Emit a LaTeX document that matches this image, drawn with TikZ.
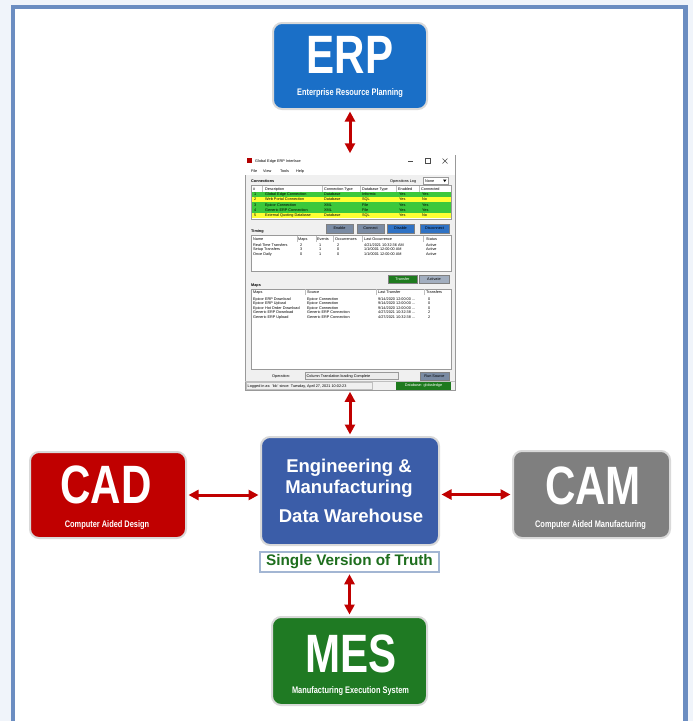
\documentclass[tikz,border=0pt]{standalone}
\usepackage{fontspec}
\setmainfont{Liberation Sans}
\newfontfamily\narrowfont[FakeStretch=0.78]{Liberation Sans}
\usetikzlibrary{arrows.meta}

\definecolor{erpBlue}{HTML}{1A6FC7}
\definecolor{dwhBlue}{HTML}{3B5DA8}
\definecolor{cadRed}{HTML}{C00000}
\definecolor{camGray}{HTML}{7F7F7F}
\definecolor{mesGreen}{HTML}{1F7A23}
\definecolor{linkRed}{HTML}{C00000}
\definecolor{frameBlue}{HTML}{6B8DC1}
\definecolor{pageTint}{HTML}{F0F4FA}
\definecolor{truthGreen}{HTML}{1E6E1E}
\definecolor{truthEdge}{HTML}{A3B6D3}
\definecolor{winGray}{HTML}{F0F0F0}
\definecolor{rowGreen}{HTML}{3CC83C}
\definecolor{rowYellow}{HTML}{FFFF33}
\definecolor{btnSlate}{HTML}{7A8BA3}
\definecolor{btnBlue}{HTML}{2F72C4}
\definecolor{btnGreen}{HTML}{1E7A1E}

\begin{document}
\begin{tikzpicture}[
    x=1pt, y=-1pt,
    sysBox/.style={rectangle, rounded corners=9pt, draw=black!15, line width=2pt, minimum width=154pt, minimum height=86pt},
    abbrText/.style={anchor=base, text=white, font=\narrowfont\bfseries\fontsize{54}{54}\selectfont},
    fullText/.style={anchor=base, text=white, font=\narrowfont\bfseries\fontsize{9.5}{11}\selectfont},
    dwhText/.style={anchor=base, text=white, font=\bfseries\fontsize{18.5}{20}\selectfont},
    link/.style={<->, >={Triangle[length=10pt, width=10pt]}, line width=3pt, draw=linkRed, shorten >=1.5pt, shorten <=1.5pt},
    guiText/.style={anchor=base west, inner sep=0pt, font=\fontsize{3.8}{4.5}\selectfont},
    guiHead/.style={guiText, font=\bfseries\fontsize{3.8}{4.5}\selectfont},
    guiButton/.style={rectangle, draw=black!50, line width=0.3pt, minimum width=27pt, minimum height=8.5pt, inner sep=0pt, font=\fontsize{3.8}{4.5}\selectfont},
    guiTable/.style={draw=black!40, fill=white, line width=0.3pt},
    guiRule/.style={draw=black!25, line width=0.3pt}
]
    \useasboundingbox (0,0) rectangle (693,721);

    % --- PAGE FRAME ---
    \fill[pageTint] (0,0) rectangle (693,721);
    \draw[frameBlue, line width=4.5pt, fill=white] (13,7) rectangle (685.5,740);

    % --- SYSTEM BOXES ---
    \node[sysBox, fill=erpBlue] (erp) at (350,66) {};
    \node[abbrText] (erpAbbr) at (350,73) {ERP};
    \node[fullText] (erpFull) at (350,95) {Enterprise Resource Planning};

    \node[sysBox, fill=cadRed, minimum width=156pt] (cad) at (108,495) {};
    \node[abbrText] (cadAbbr) at (106,503) {CAD};
    \node[fullText] (cadFull) at (107,527) {Computer Aided Design};

    \node[sysBox, fill=camGray, minimum width=157pt, minimum height=87pt] (cam) at (591.5,494.5) {};
    \node[abbrText] (camAbbr) at (593,504) {CAM};
    \node[fullText] (camFull) at (590.5,527) {Computer Aided Manufacturing};

    \node[sysBox, fill=mesGreen, minimum width=155pt, minimum height=88pt] (mes) at (349.5,661) {};
    \node[abbrText] (mesAbbr) at (351,672) {MES};
    \node[fullText] (mesFull) at (350.5,693) {Manufacturing Execution System};

    % Data warehouse in the middle
    \node[sysBox, fill=dwhBlue, minimum width=178pt, minimum height=108pt] (dwh) at (350,491) {};
    \node[dwhText] (dwhLine1) at (349,472) {Engineering \&};
    \node[dwhText] (dwhLine2) at (349,493) {Manufacturing};
    \node[dwhText] (dwhLine3) at (351,522) {Data Warehouse};

    \node[rectangle, draw=truthEdge, line width=1.5pt, fill=white, minimum width=179pt, minimum height=20pt, inner sep=0pt,
          text=truthGreen, font=\bfseries\fontsize{15.3}{17}\selectfont] (truth) at (349.5,562) {Single Version of Truth};

    % --- INTERFACE WINDOW ---
    \node[rectangle, draw=black!40, fill=winGray, line width=0.5pt, minimum width=210pt, minimum height=235pt, inner sep=0pt] (gui) at (350,272.5) {};

    % title and menu bar
    \fill[white] (245.3,155.3) rectangle (454.7,175);
    \fill[red!70!black] (247,158) rectangle (252,163);
    \node[guiText] (guiTitle) at (255,162.5) {Global Edge ERP Interface};
    \draw[black!70, line width=0.4pt] (408,161) -- (413,161);
    \draw[black!70, line width=0.4pt] (425,158.5) rectangle (430,163.5);
    \draw[black!70, line width=0.4pt] (442.5,158.5) -- (447.5,163.5) (442.5,163.5) -- (447.5,158.5);
    \foreach \item/\x in {File/251, View/263, Tools/280, Help/296}
        \node[guiText] at (\x,172.5) {\item};

    % connections table
    \node[guiHead] (guiConn) at (251,182) {Connections};
    \node[guiText] (guiLog) at (390,182) {Operations Log};
    \draw[guiTable] (423,177) rectangle (448,184.5);
    \node[guiText] at (425,182.5) {None};
    \fill[black] (443,179.5) -- (446.5,179.5) -- (444.75,182) -- cycle;

    \draw[guiTable] (251,185.5) rectangle (451,219.5);
    \foreach \x in {262, 322, 360, 396, 419}
        \draw[guiRule] (\x,185.5) -- (\x,191.5);
    \foreach \head/\x in {\#/253, Description/265, Connection Type/324, Database Type/362, Enabled/398, Connected/421}
        \node[guiText] at (\x,190) {\head};
    \foreach \i/\desc/\ctype/\dbtype/\en/\con/\shade in {
        1/Global Edge Connection/Database/Informix/Yes/Yes/rowGreen,
        2/Web Portal Connection/Database/SQL/Yes/No/rowYellow,
        3/Epicor Connection/XML/File/Yes/Yes/rowGreen,
        4/Generic ERP Connection/XML/File/Yes/Yes/rowGreen,
        5/External Quoting Database/Database/SQL/Yes/No/rowYellow}
    {
        \pgfmathsetmacro\rowTop{191.5+5.3*(\i-1)}
        \fill[\shade] (251.5,\rowTop) rectangle (450.5,\rowTop+5.3);
        \node[guiText] at (254,\rowTop+4) {\i};
        \node[guiText] at (265,\rowTop+4) {\desc};
        \node[guiText] at (324,\rowTop+4) {\ctype};
        \node[guiText] at (362,\rowTop+4) {\dbtype};
        \node[guiText] at (399,\rowTop+4) {\en};
        \node[guiText] at (422,\rowTop+4) {\con};
    }

    % timing table
    \node[guiHead] (guiTiming) at (251,232) {Timing};
    \node[guiButton, fill=btnSlate] (btnEnable) at (339.5,228.5) {Enable};
    \node[guiButton, fill=btnSlate] (btnConnect) at (370.5,228.5) {Connect};
    \node[guiButton, fill=btnBlue] (btnDisable) at (400.5,228.5) {Disable};
    \node[guiButton, fill=btnBlue, minimum width=29pt] (btnDisconnect) at (434.5,228.5) {Disconnect};

    \draw[guiTable] (251,235.5) rectangle (451,271);
    \foreach \x in {297, 316, 333, 362, 423}
        \draw[guiRule] (\x,235.5) -- (\x,241.5);
    \foreach \head/\x in {Name/253, Maps/298, Events/317, Occurrences/335, Last Occurrence/364, Status/426}
        \node[guiText] at (\x,240) {\head};
    \foreach \i/\name/\maps/\events/\occ/\last in {
        1/Real-Time Transfers/2/1/2/{4/21/2021 10:32:36 AM},
        2/Setup Transfers/3/1/0/{1/1/0001 12:00:00 AM},
        3/Once Daily/0/1/0/{1/1/0001 12:00:00 AM}}
    {
        \pgfmathsetmacro\rowBase{246+4.6*(\i-1)}
        \node[guiText] at (253,\rowBase) {\name};
        \node[guiText] at (300,\rowBase) {\maps};
        \node[guiText] at (319,\rowBase) {\events};
        \node[guiText] at (337,\rowBase) {\occ};
        \node[guiText] at (364,\rowBase) {\last};
        \node[guiText] at (426,\rowBase) {Active};
    }

    \node[guiButton, fill=btnGreen, text=white, minimum width=29pt] (btnTransfer) at (402.5,279) {Transfer};
    \node[guiButton, fill=btnSlate!70, minimum width=30pt] (btnActivate) at (434,279) {Activate};

    % maps table
    \node[guiHead] (guiMaps) at (251,286) {Maps};
    \draw[guiTable] (251,289) rectangle (451,369);
    \foreach \x in {305, 376, 424}
        \draw[guiRule] (\x,289) -- (\x,295);
    \foreach \head/\x in {Maps/253, Source/307, Last Transfer/378, Transfers/426}
        \node[guiText] at (\x,293.5) {\head};
    \foreach \i/\map/\src/\stamp/\count in {
        1/Epicor ERP Download/Epicor Connection/{9/14/2020 12:00:00 ...}/0,
        2/Epicor ERP Upload/Epicor Connection/{9/14/2020 12:00:00 ...}/0,
        3/Epicor Hot Order Download/Epicor Connection/{9/14/2020 12:00:00 ...}/0,
        4/Generic ERP Download/Generic ERP Connection/{4/27/2021 10:32:38 ...}/2,
        5/Generic ERP Upload/Generic ERP Connection/{4/27/2021 10:32:38 ...}/2}
    {
        \pgfmathsetmacro\rowBase{300+4.6*(\i-1)}
        \node[guiText] at (253,\rowBase) {\map};
        \node[guiText] at (307,\rowBase) {\src};
        \node[guiText] at (378,\rowBase) {\stamp};
        \node[guiText] at (428,\rowBase) {\count};
    }

    % operation line and status bar
    \node[guiText] (guiOp) at (272,377.5) {Operation:};
    \draw[guiTable, fill=black!8] (305,372.5) rectangle (398,379.5);
    \node[guiText] at (306.5,377.5) {Column Translation loading Complete};
    \node[guiButton, fill=btnSlate, minimum width=29pt] (btnRun) at (434.5,376) {Run Source};

    \draw[guiRule] (245.3,381) -- (454.7,381);
    \draw[guiRule] (246,381.8) rectangle (372,389.4);
    \node[guiText] (guiLogin) at (247.5,387.5) {Logged in as: 'ldc' since: Tuesday, April 27, 2021 10:02:23};
    \node[rectangle, fill=btnGreen, text=white, minimum width=55pt, minimum height=8pt, inner sep=0pt,
          font=\fontsize{3.8}{4.5}\selectfont] (guiDb) at (423.5,385.5) {Database: globaledge};

    % --- LINKS ---
    \draw[link] (erp) -- (gui);
    \draw[link] (gui) -- (dwh);
    \draw[link] (cad.east) -- (cad.east -| dwh.west);
    \draw[link] (dwh.east |- cam.west) -- (cam.west);
    \draw[link] (truth) -- (mes);

\end{tikzpicture}
\end{document}
